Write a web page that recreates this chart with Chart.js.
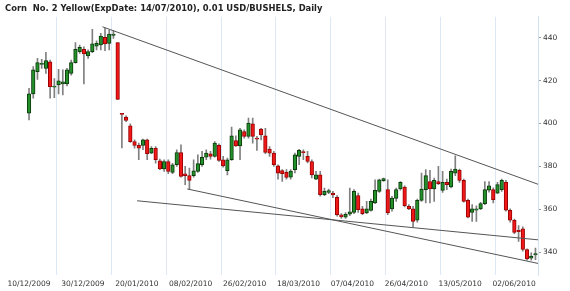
<!DOCTYPE html>
<html><head><meta charset="utf-8">
<script src="https://cdn.jsdelivr.net/npm/chart.js@4"></script>
<style>
html,body{margin:0;padding:0;background:#fff;}
#wrap{position:relative;width:570px;height:291px;overflow:hidden;}
#title{position:absolute;left:5px;top:3px;font:bold 8.4px "DejaVu Sans";color:#222;white-space:pre;}
canvas{position:absolute;left:0;top:0;}
</style></head><body>
<div id="wrap"><canvas id="c" width="570" height="291"></canvas><div id="title">Corn  No. 2 Yellow(ExpDate: 14/07/2010), 0.01 USD/BUSHELS, Daily</div></div>
<script>
const tickLabels = ['10/12/2009','30/12/2009','20/01/2010','08/02/2010','26/02/2010','18/03/2010','07/04/2010','26/04/2010','13/05/2010','02/06/2010'];
const tickIndex = [0,13,26,39,52,65,78,91,104,117];
const yTicks = [340,360,380,400,420,440];

const opens = [404.8,413.8,424.2,427.5,425.7,428.8,416.9,418.0,418.5,418.5,423.4,428.4,433.5,434.6,431.5,433.5,436.1,436.6,440.2,437.4,441.1,437.7,
404.6,403.0,398.9,391.6,389.8,389.8,392.4,386.2,388.5,382.6,378.8,382.3,377.2,380.8,386.5,376.6,375.7,375.7,377.7,380.8,384.3,385.9,384.7,389.8,383.1,378.0,383.1,392.1,389.6,396.3,394.0,399.9,393.0,397.4,394.3,388.1,
386.2,380.3,378.1,377.2,375.0,378.5,384.7,386.6,384.7,382.3,374.1,376.1,366.8,367.9,367.6,365.6,357.4,356.4,357.7,358.6,366.4,360.2,358.3,359.5,363.0,368.4,373.4,369.2,360.2,365.1,369.5,370.4,361.4,360.2,354.9,364.2,369.2,373.0,369.5,373.0,
368.8,372.6,370.4,376.9,378.2,373.5,364.2,358.6,359.6,360.2,362.7,368.9,369.2,367.6,369.2,372.6,359.6,354.9,350.2,350.9,341.3,337.2,338.8];
const highs = [416.4,426.5,430.4,429.9,433.2,429.6,421.0,425.3,425.0,425.7,429.6,437.7,436.6,435.8,434.3,443.9,438.6,442.0,444.4,443.6,443.3,437.7,
404.8,403.6,399.9,392.4,390.9,392.7,392.7,389.3,389.3,383.4,383.1,383.1,381.5,387.8,390.1,380.0,379.2,383.1,385.4,387.0,387.8,387.0,391.6,390.5,384.7,383.9,398.3,394.3,397.8,397.1,402.5,402.5,394.0,397.8,397.8,389.3,
387.0,380.8,378.5,378.5,378.5,386.2,388.0,387.8,387.0,383.1,377.7,377.7,369.9,369.5,368.4,366.4,358.0,358.5,369.9,369.2,367.6,361.4,363.7,364.8,373.8,374.1,374.6,373.8,366.1,369.9,373.0,371.0,362.2,361.4,364.8,376.9,378.5,378.2,374.6,380.0,
377.7,374.1,378.8,385.0,378.8,374.1,364.8,362.2,361.7,363.3,373.0,373.0,370.0,372.6,374.1,373.5,360.2,355.5,352.4,351.8,341.6,339.7,342.0];
const lows = [401.7,411.8,420.6,425.7,423.4,411.8,412.0,413.8,413.3,417.5,422.6,428.1,432.7,418.5,430.4,433.0,434.3,434.3,434.0,434.3,439.7,411.3,
388.6,400.9,391.2,388.5,383.1,387.8,383.1,385.9,381.5,378.5,377.7,376.6,376.6,380.0,375.0,371.5,369.2,375.0,377.2,380.0,383.1,383.4,384.3,382.3,379.7,376.1,382.8,389.3,383.1,393.2,393.2,390.9,387.5,392.4,385.9,384.7,
380.0,374.1,373.0,374.1,374.1,377.0,380.8,383.1,381.6,374.6,373.8,366.1,366.4,367.3,365.5,356.8,355.8,355.8,357.0,358.0,358.6,357.5,358.0,359.1,362.7,367.9,373.0,357.5,359.1,363.7,368.9,361.1,359.8,351.8,354.0,363.7,363.0,363.0,363.7,371.5,
367.9,369.2,370.0,375.7,372.6,363.3,356.0,354.4,354.4,359.9,362.2,368.0,363.0,367.3,368.4,359.1,354.0,348.7,345.1,340.5,336.3,336.3,336.6];
const closes = [413.8,425.0,428.4,427.8,429.3,417.2,417.5,419.9,419.4,425.0,428.4,434.6,435.5,432.4,433.5,437.1,437.4,440.8,437.1,441.7,441.3,411.3,
404.2,401.4,391.6,389.8,388.5,392.4,385.9,388.5,383.1,378.8,382.3,377.7,380.8,386.5,375.4,375.7,373.5,378.0,381.3,384.3,386.2,384.7,390.9,382.8,380.3,383.1,394.3,389.6,397.1,394.0,400.2,394.0,392.7,394.7,386.5,386.2,
380.8,376.9,376.6,374.9,377.8,385.4,387.5,386.4,382.3,376.1,376.1,366.8,368.4,368.7,366.7,357.5,356.5,357.7,358.9,368.4,359.9,358.0,360.2,363.7,368.9,373.8,374.3,358.3,365.3,369.2,372.6,361.7,360.2,354.4,364.2,369.5,375.7,369.5,373.5,372.0,
372.6,371.5,377.7,378.8,373.5,363.7,356.4,360.2,360.2,362.7,369.2,371.0,364.5,371.5,373.5,359.6,354.9,349.3,349.6,341.3,336.9,338.2,338.9];

// trend lines: [index, price] endpoints
const upperLineX = [17.4, 120.6];
const upperLineY = [445.1, 371.7];
const midLineX = [25.6, 120.6];
const midLineY = [364.0, 345.8];
const lowerLineX = [37.5, 120.6];
const lowerLineY = [369.5, 334.8];

// date labels in the source sit slightly left of their grid lines
const LABEL_STEP = 12.77;

const GREEN = '#23902a', GREEN_B = '#0b3b0b', RED = '#f01818', RED_B = '#9a0000';
const bodies = opens.map((o, i) => ({x: i, y: [Math.min(o, closes[i]), Math.max(o, closes[i])]}));
const wicks = opens.map((o, i) => ({x: i, y: [lows[i], highs[i]]}));
const up = i => closes[i] >= opens[i];
const line = (xs, ys) => xs.map((x, k) => ({x, y: ys[k]}));
const lineDs = (xs, ys) => ({type: 'line', data: line(xs, ys), borderColor: '#555', borderWidth: 1, pointRadius: 0, fill: false, tension: 0, order: -1});

const font = {family: 'DejaVu Sans', size: 7.5};
new Chart(document.getElementById('c'), {
  type: 'bar',
  data: {
    datasets: [
      {data: bodies, barThickness: 3.6, minBarLength: 1.2, grouped: false, borderSkipped: false, borderWidth: 1,
       backgroundColor: ctx => up(ctx.dataIndex) ? GREEN : RED,
       borderColor: ctx => up(ctx.dataIndex) ? GREEN_B : RED_B, order: 0},
      {data: wicks, barThickness: 1, grouped: false, backgroundColor: '#808080', borderWidth: 0, order: 1},
      lineDs(upperLineX, upperLineY),
      lineDs(midLineX, midLineY),
      lineDs(lowerLineX, lowerLineY)
    ]
  },
  options: {
    responsive: false, devicePixelRatio: 1, animation: false,
    layout: {padding: {left: 26.5, top: 16.7, right: 0, bottom: 0}},
    plugins: {legend: {display: false}, tooltip: {enabled: false}, title: {display: false}},
    scales: {
      x: {
        type: 'linear', min: -0.6, max: 120.6, offset: false, weight: 2,
        afterBuildTicks: s => { s.ticks = tickIndex.map(v => ({value: v})); },
        afterFit: s => { s.height = 0; },
        grid: {color: '#dde8f4', lineWidth: 1, tickLength: 3},
        border: {color: '#d3e1f0'},
        ticks: {display: false}
      },
      xl: {
        type: 'linear', position: 'bottom', min: -0.6, max: 120.6, offset: false, weight: 1,
        afterBuildTicks: s => { s.ticks = tickIndex.map(v => ({value: v * LABEL_STEP / 13})); },
        afterFit: s => { s.height = 16; },
        grid: {display: false, drawTicks: false, tickLength: 0},
        border: {display: false},
        ticks: {font, color: '#333', maxRotation: 0, autoSkip: false, padding: 5,
          callback: (v, k) => tickLabels[k]}
      },
      y: {
        position: 'right', min: 329.4, max: 449.8,
        afterBuildTicks: s => { s.ticks = yTicks.map(v => ({value: v})); },
        afterFit: s => { s.width = 32; },
        grid: {drawOnChartArea: false, tickLength: 3, color: '#999'},
        border: {color: '#d3e1f0'},
        ticks: {font, color: '#333', padding: 2}
      }
    }
  }
});
</script>
</body></html>
